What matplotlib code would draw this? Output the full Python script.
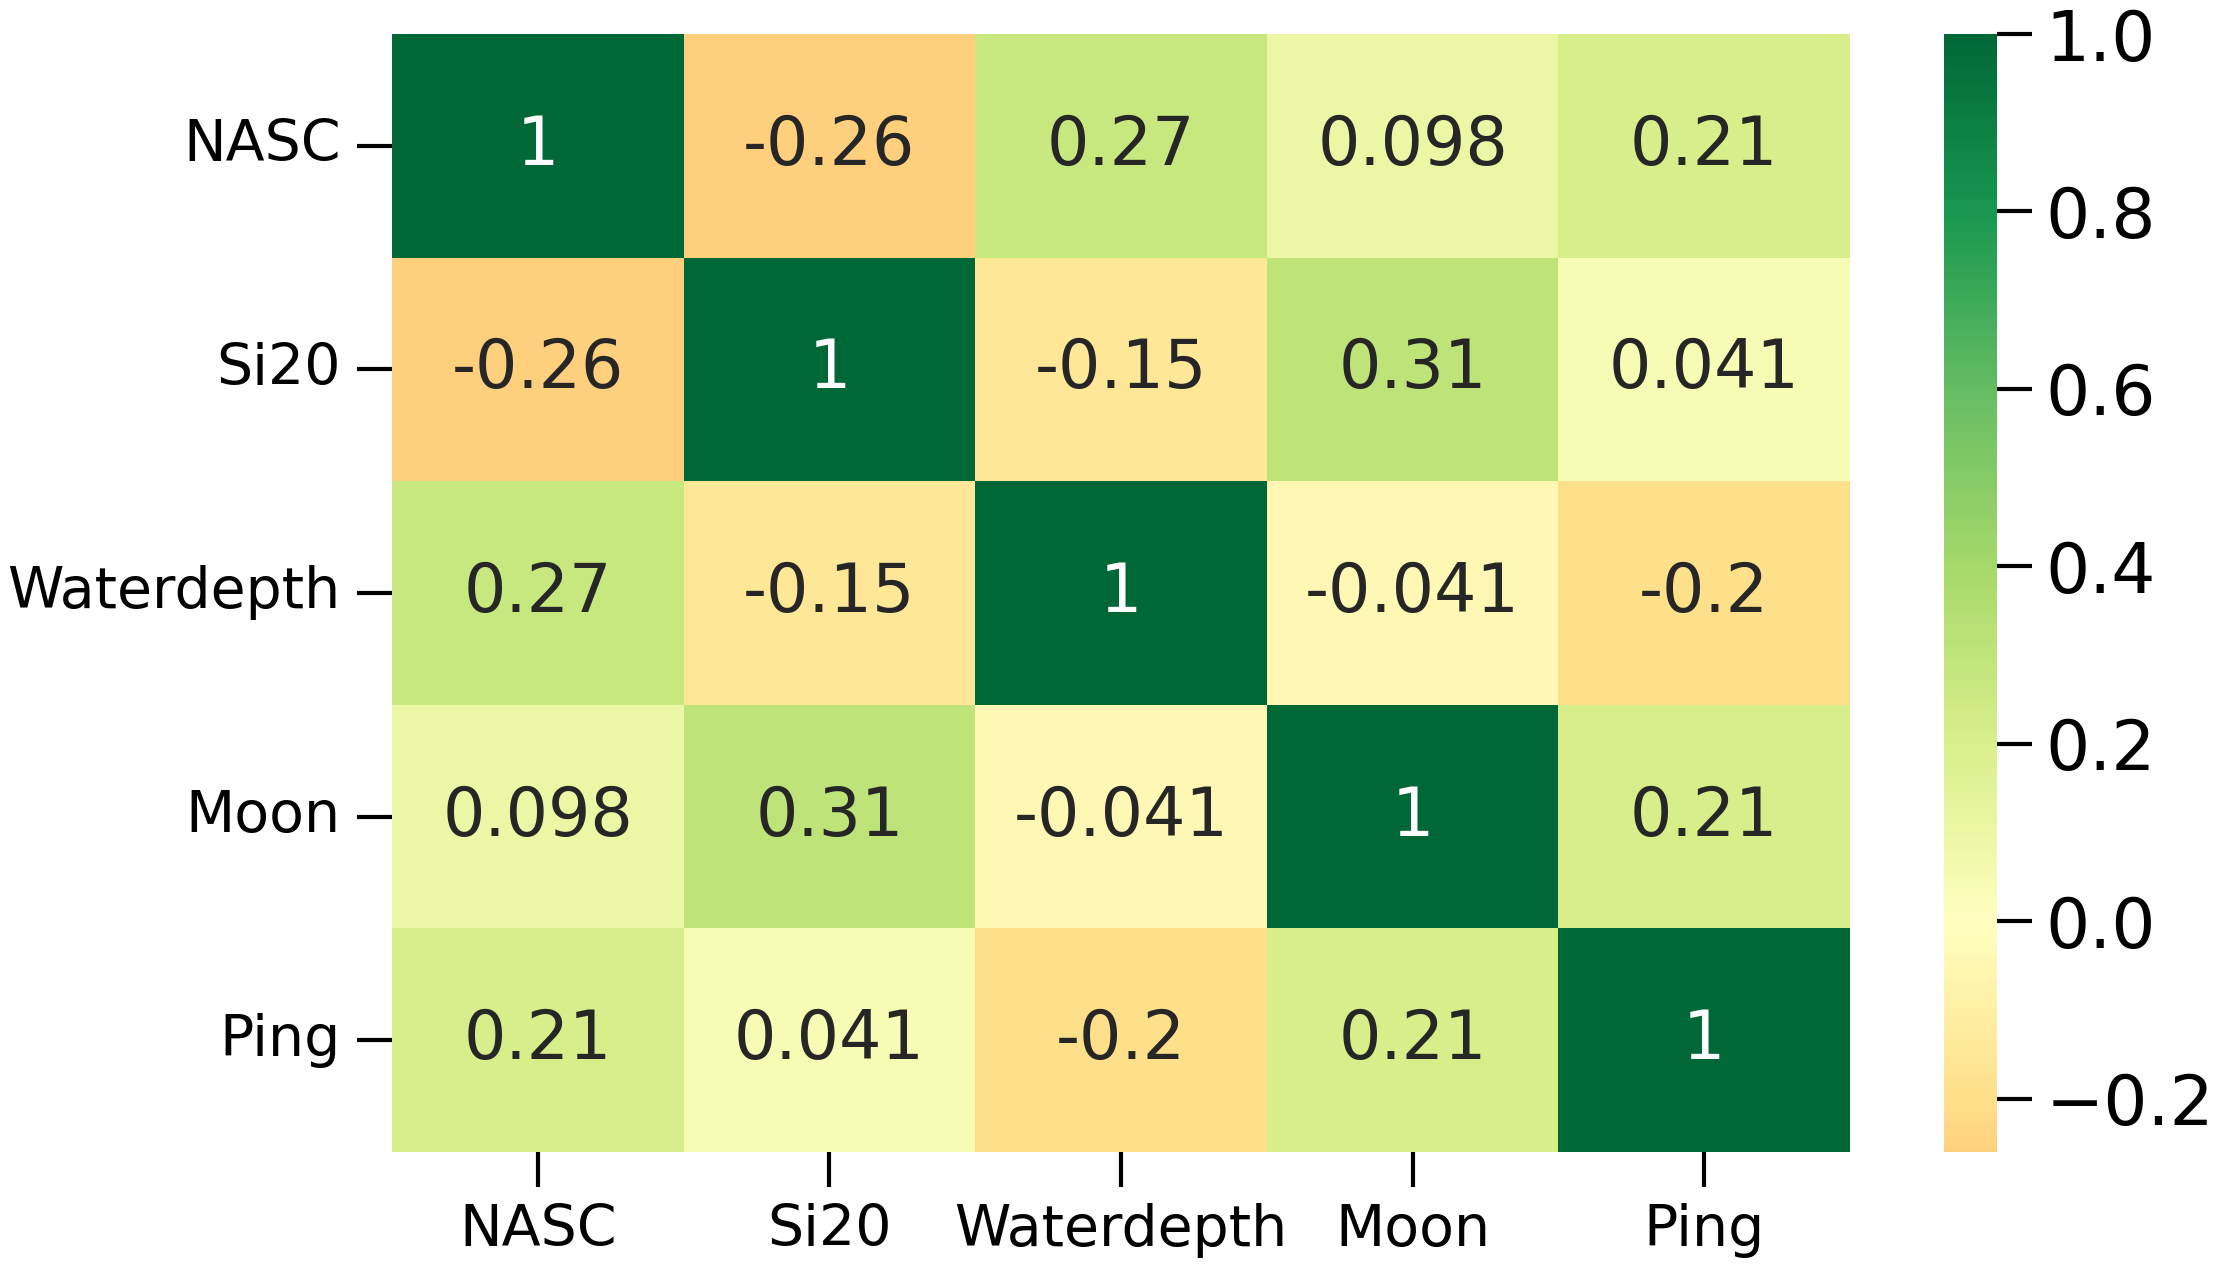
import numpy as np
import pandas as pd
import matplotlib
matplotlib.use("Agg")
import matplotlib.pyplot as plt
import seaborn as sns

labels = ["NASC", "Si20", "Waterdepth", "Moon", "Ping"]
row_nasc = [1, -0.26, 0.27, 0.098, 0.21]
row_si20 = [-0.26, 1, -0.15, 0.31, 0.041]
row_water = [0.27, -0.15, 1, -0.041, -0.2]
row_moon = [0.098, 0.31, -0.041, 1, 0.21]
row_ping = [0.21, 0.041, -0.2, 0.21, 1]

corr = pd.DataFrame([row_nasc, row_si20, row_water, row_moon, row_ping],
                    index=labels, columns=labels)

W, H = 2217, 1283
top, bottom = 34, 1152
fig = plt.figure(figsize=(W / 100, H / 100), dpi=100)
ax = fig.add_axes([392 / W, 1 - bottom / H, (1850 - 392) / W, (bottom - top) / H])
cax = fig.add_axes([1944 / W, 1 - bottom / H, 53 / W, (bottom - top) / H])

sns.heatmap(corr, ax=ax, cbar_ax=cax, cmap="RdYlGn", center=0, annot=True,
            annot_kws={"fontsize": 48})

ax.tick_params(axis="both", labelsize=41, length=25, width=3, pad=12)
ax.set_yticklabels(labels, rotation=0)
ax.set_xticklabels(labels, rotation=0)
cax.tick_params(labelsize=50, length=25, width=3, pad=10)
cax.set_yticks([-0.2, 0.0, 0.2, 0.4, 0.6, 0.8, 1.0])
cax.set_yticklabels(["\u22120.2", "0.0", "0.2", "0.4", "0.6", "0.8", "1.0"])

fig.savefig("out.png", dpi=100)
